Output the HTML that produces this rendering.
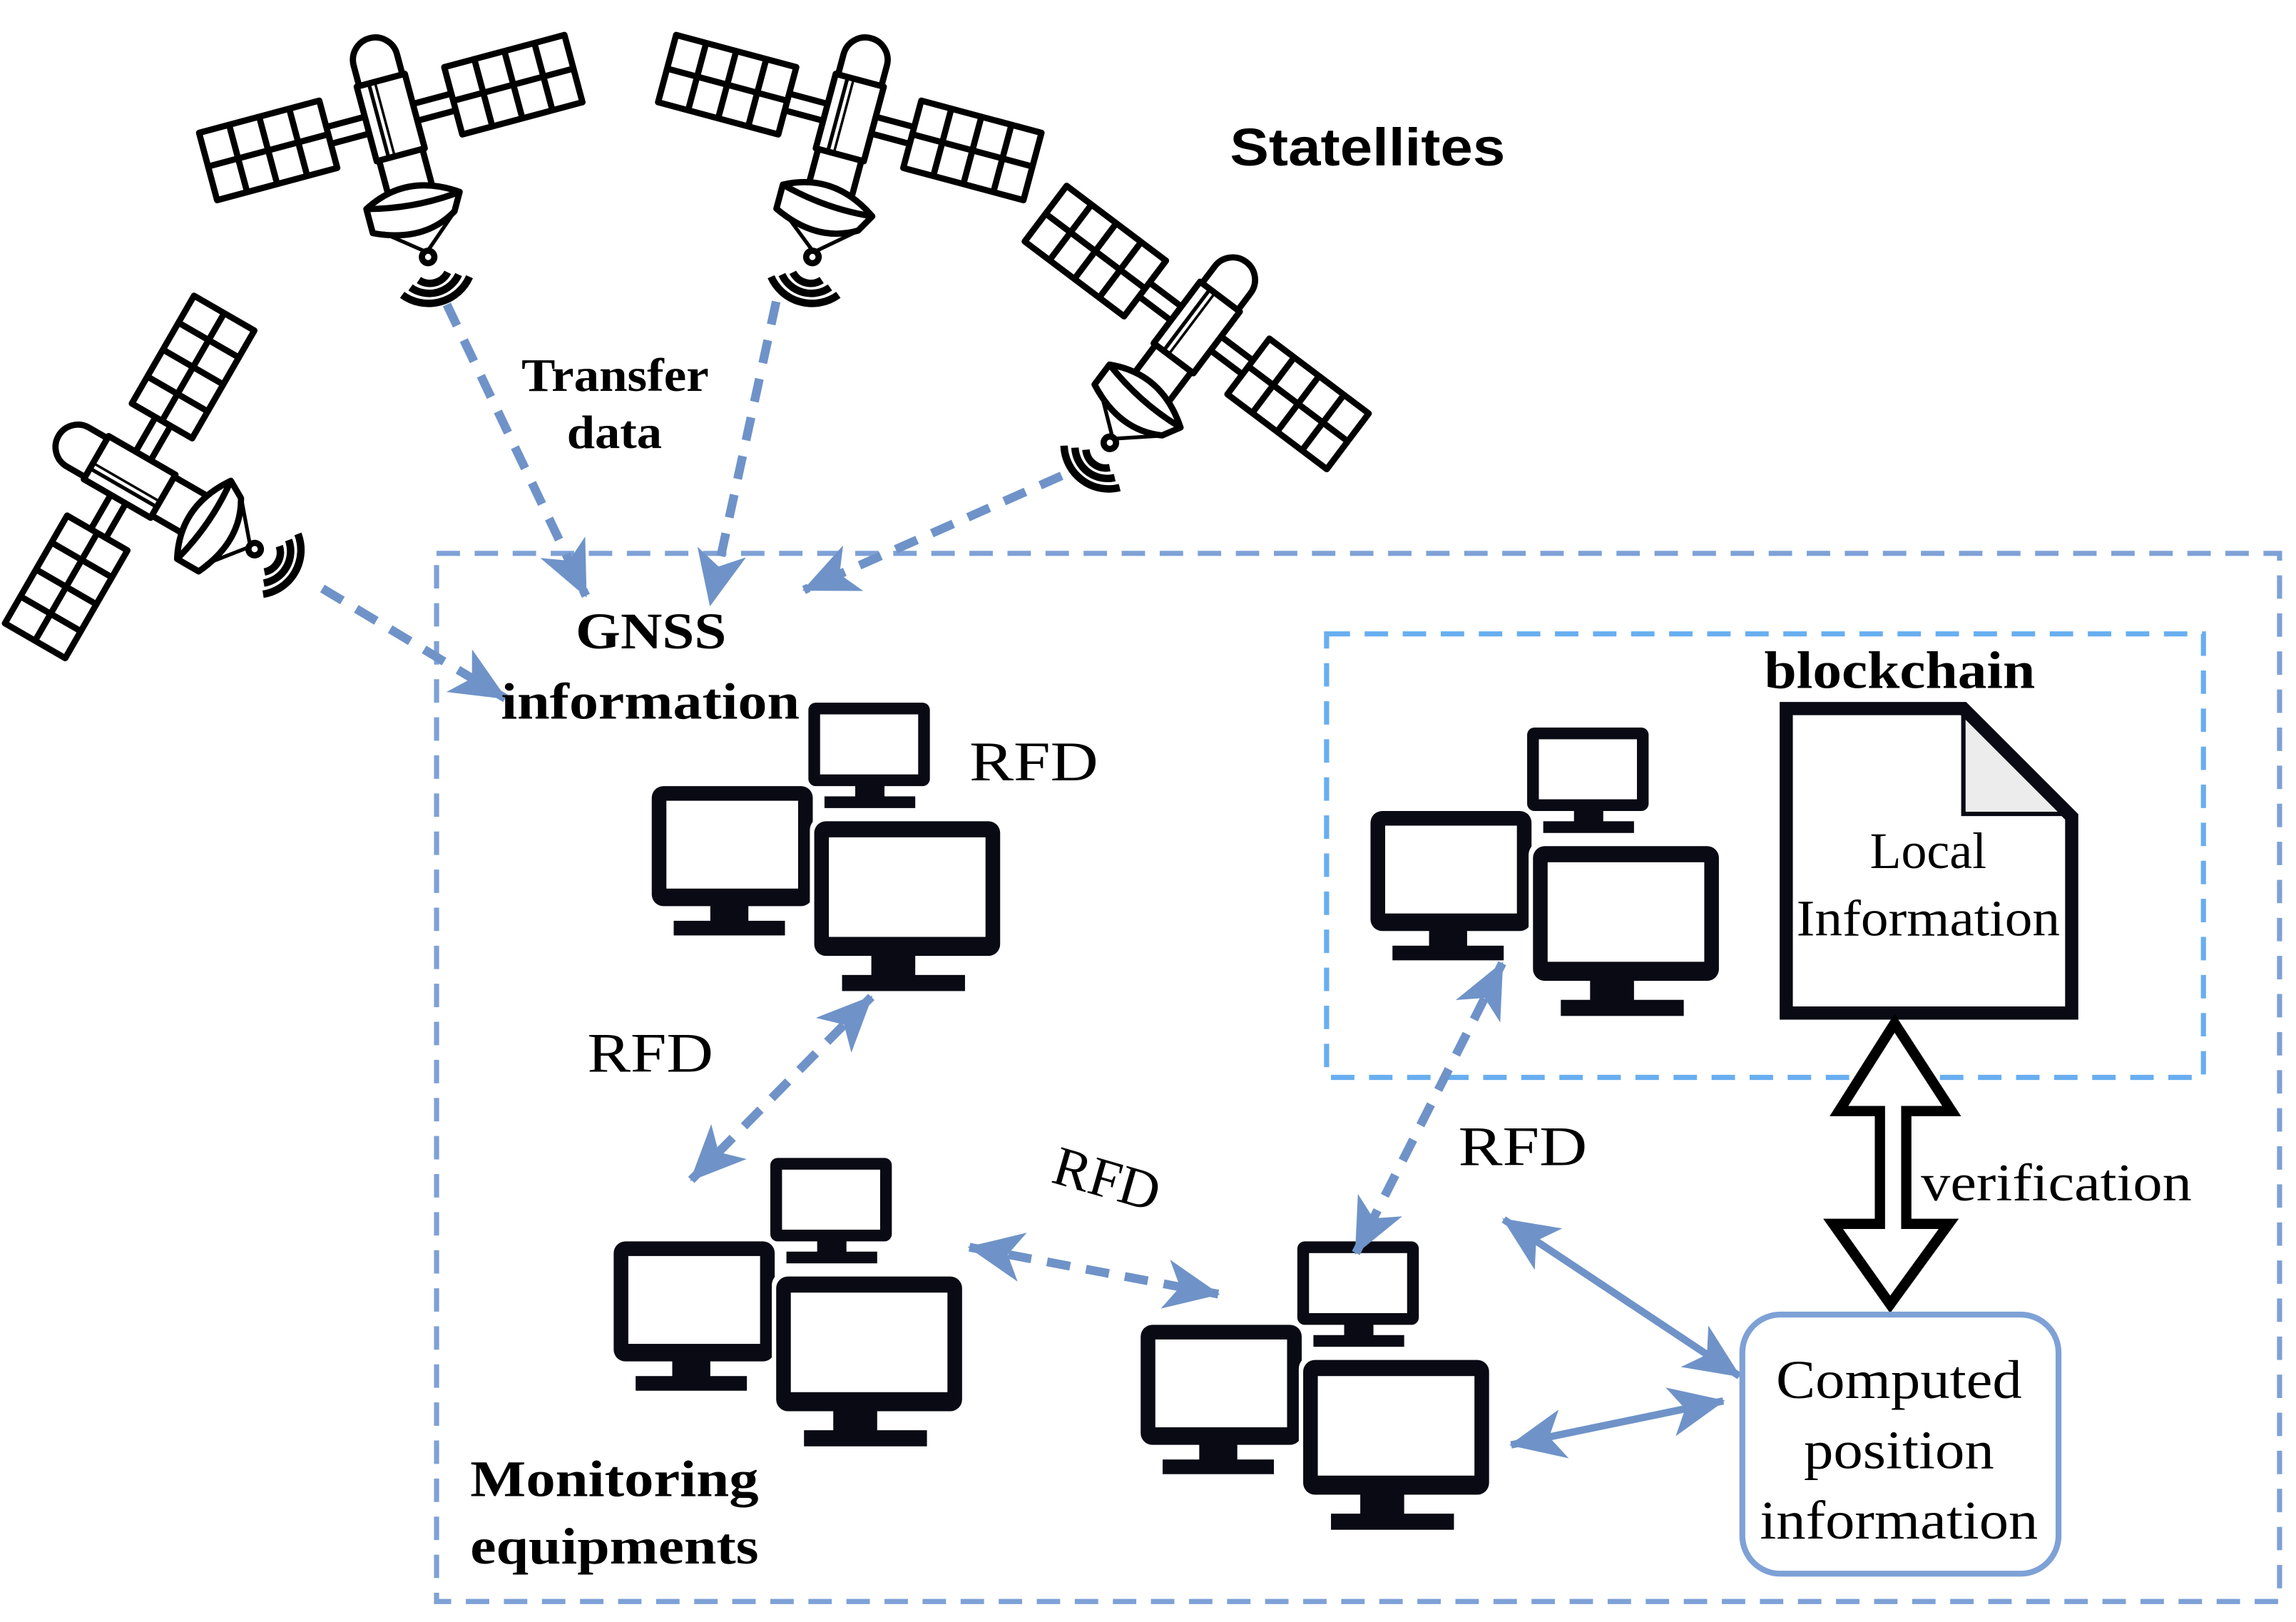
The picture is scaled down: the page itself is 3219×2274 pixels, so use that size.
<!DOCTYPE html>
<html><head><meta charset="utf-8"><style>
html,body{margin:0;padding:0;background:#fff;}
svg{display:block;}
</style></head><body>
<svg width="3219" height="2274" viewBox="0 0 1568 1108" xmlns="http://www.w3.org/2000/svg">
<defs>
<marker id="ah" viewBox="0 0 30 28" refX="29" refY="14" markerWidth="38" markerHeight="34" markerUnits="userSpaceOnUse" orient="auto-start-reverse" preserveAspectRatio="none">
<path d="M0,0 L30,14 L0,28 L8,14 z" fill="#6f93c8"/>
</marker>
<g id="cl">
 <rect x="107" y="0" width="83" height="57" rx="5" fill="#0a0a14"/>
 <rect x="115" y="8" width="67" height="41" fill="#fff"/>
 <rect x="139" y="56" width="20" height="10" fill="#0a0a14"/>
 <rect x="118" y="64" width="62" height="8" fill="#0a0a14"/>
 <rect x="0" y="57" width="110" height="82" rx="8" fill="#0a0a14"/>
 <rect x="10" y="67" width="90" height="60" fill="#fff"/>
 <rect x="40" y="138" width="26" height="12" fill="#0a0a14"/>
 <rect x="15" y="149" width="76" height="10" fill="#0a0a14"/>
 <rect x="108" y="78" width="133" height="98" rx="9" fill="#fff"/>
 <rect x="111" y="81" width="127" height="92" rx="8" fill="#0a0a14"/>
 <rect x="121" y="92" width="107" height="68" fill="#fff"/>
 <rect x="150" y="172" width="30" height="15" fill="#0a0a14"/>
 <rect x="130" y="186" width="84" height="11" fill="#0a0a14"/>
</g>
<g id="sat" fill="#fff" stroke="#000" stroke-width="5" stroke-linejoin="round">
 <rect x="-60" y="-30" width="120" height="14"/>
 <g>
  <rect x="-152" y="-52" width="100" height="56"/>
  <line x1="-127" y1="-52" x2="-127" y2="4"/><line x1="-102" y1="-52" x2="-102" y2="4"/><line x1="-77" y1="-52" x2="-77" y2="4"/>
  <line x1="-152" y1="-24" x2="-52" y2="-24"/>
 </g>
 <g>
  <rect x="52" y="-52" width="100" height="56"/>
  <line x1="77" y1="-52" x2="77" y2="4"/><line x1="102" y1="-52" x2="102" y2="4"/><line x1="127" y1="-52" x2="127" y2="4"/>
  <line x1="52" y1="-24" x2="152" y2="-24"/>
 </g>
 <path d="M-18,-55 L-18,-72 A18,18 0 0 1 18,-72 L18,-55 Z"/>
 <rect x="-20" y="-55" width="40" height="62"/>
 <line x1="-10" y1="-55" x2="-10" y2="7" stroke-width="3"/>
 <line x1="-5" y1="-55" x2="-5" y2="7" stroke-width="2"/>
 <rect x="-18" y="7" width="36" height="30"/>
 <path d="M-38,42 Q0,22 38,48 L30,62 Q0,80 -38,62 Z"/>
 <path d="M-38,42 Q0,52 38,48" fill="none"/>
 <path d="M-30,64 L0,88 L28,64" fill="none" stroke-width="3"/>
 <circle cx="0" cy="92" r="5"/>
 <g fill="none" stroke-width="6">
  <path d="M-12,108 A16,16 0 0 0 12,108"/>
  <path d="M-20,112 A26,26 0 0 0 20,112"/>
  <path d="M-28,116 A36,36 0 0 0 28,116"/>
 </g>
</g>
</defs>

<rect x="298" y="378" width="1259" height="716" fill="none" stroke="#7ea1d6" stroke-width="3.5" stroke-dasharray="16 10"/>
<rect x="906" y="433" width="599" height="303" fill="none" stroke="#68aef0" stroke-width="3.5" stroke-dasharray="16 10"/>

<use href="#sat" transform="translate(272,100) rotate(-15) scale(0.85)"/>
<use href="#sat" transform="translate(575,100) rotate(15) scale(0.85)"/>
<use href="#sat" transform="translate(805,240) rotate(37) scale(0.85)"/>
<use href="#sat" transform="translate(106,336) rotate(-60) scale(0.85)"/>

<use href="#cl" x="445" y="480"/>
<use href="#cl" x="419" y="791"/>
<use href="#cl" x="779" y="848"/>
<use href="#cl" x="936" y="497"/>

<g fill="none" stroke="#6f93c8" stroke-width="6" stroke-dasharray="16 11">
 <path d="M305,208 L400,407" marker-end="url(#ah)"/>
 <path d="M530,206 L485,413" marker-end="url(#ah)"/>
 <path d="M725,325 L549,403" marker-end="url(#ah)"/>
 <path d="M220,402 L345,477" marker-end="url(#ah)"/>
 <path d="M595,681 L472,806" marker-start="url(#ah)" marker-end="url(#ah)"/>
 <path d="M662,852 L832,884" marker-start="url(#ah)" marker-end="url(#ah)"/>
 <path d="M1026,658 L926,856" marker-start="url(#ah)" marker-end="url(#ah)"/>
</g>
<g fill="none" stroke="#6f93c8" stroke-width="5">
 <path d="M1027,833 L1188,940" marker-start="url(#ah)" marker-end="url(#ah)"/>
 <path d="M1032,987 L1177,957" marker-start="url(#ah)" marker-end="url(#ah)"/>
</g>

<path d="M1220,484 L1341,484 L1415,558 L1415,692 L1220,692 Z" fill="#fff" stroke="#0a0a14" stroke-width="9"/>
<path d="M1341,488 L1341,556 L1409,556 Z" fill="#ececec" stroke="#0a0a14" stroke-width="3"/>

<path d="M1294,699 L1333,759 L1302,759 L1302,836 L1331,836 L1291,891 L1252,836 L1284,836 L1284,759 L1256,759 Z" fill="#fff" stroke="#000" stroke-width="7" stroke-linejoin="miter"/>

<rect x="1190" y="898" width="216" height="177" rx="26" fill="#fff" stroke="#7ea1d6" stroke-width="4"/>

<g font-family="'Liberation Serif', serif" fill="#000">
 <text x="356" y="267" font-size="32" font-weight="bold" textLength="128" lengthAdjust="spacingAndGlyphs">Transfer</text>
 <text x="387" y="306" font-size="32" font-weight="bold" textLength="65" lengthAdjust="spacingAndGlyphs">data</text>
 <text x="393" y="443" font-size="35" font-weight="bold" textLength="103" lengthAdjust="spacingAndGlyphs">GNSS</text>
 <text x="342" y="491" font-size="35" font-weight="bold" textLength="204" lengthAdjust="spacingAndGlyphs">information</text>
 <text x="1205" y="470" font-size="36" font-weight="bold" textLength="185" lengthAdjust="spacingAndGlyphs">blockchain</text>
 <text x="321" y="1022" font-size="35" font-weight="bold" textLength="197" lengthAdjust="spacingAndGlyphs">Monitoring</text>
 <text x="321" y="1068" font-size="35" font-weight="bold" textLength="197" lengthAdjust="spacingAndGlyphs">equipments</text>
 <text x="662" y="533" font-size="38" textLength="88" lengthAdjust="spacingAndGlyphs">RFD</text>
 <text x="401" y="732" font-size="38" textLength="86" lengthAdjust="spacingAndGlyphs">RFD</text>
 <text x="996" y="796" font-size="38" textLength="88" lengthAdjust="spacingAndGlyphs">RFD</text>
 <text x="756" y="818" font-size="38" text-anchor="middle" transform="rotate(16 756 805)">RFD</text>
 <text x="1317" y="593" font-size="35" text-anchor="middle">Local</text>
 <text x="1317" y="639" font-size="35" text-anchor="middle" textLength="180" lengthAdjust="spacingAndGlyphs">Information</text>
 <text x="1312" y="820" font-size="36" textLength="185" lengthAdjust="spacingAndGlyphs">verification</text>
 <text x="1297" y="955" font-size="37" text-anchor="middle" textLength="168" lengthAdjust="spacingAndGlyphs">Computed</text>
 <text x="1297" y="1003" font-size="37" text-anchor="middle" textLength="130" lengthAdjust="spacingAndGlyphs">position</text>
 <text x="1297" y="1051" font-size="37" text-anchor="middle" textLength="190" lengthAdjust="spacingAndGlyphs">information</text>
</g>
<text x="840" y="113" font-family="'Liberation Sans', sans-serif" font-size="36" font-weight="bold" textLength="188" lengthAdjust="spacingAndGlyphs">Statellites</text>
</svg>
</body></html>
